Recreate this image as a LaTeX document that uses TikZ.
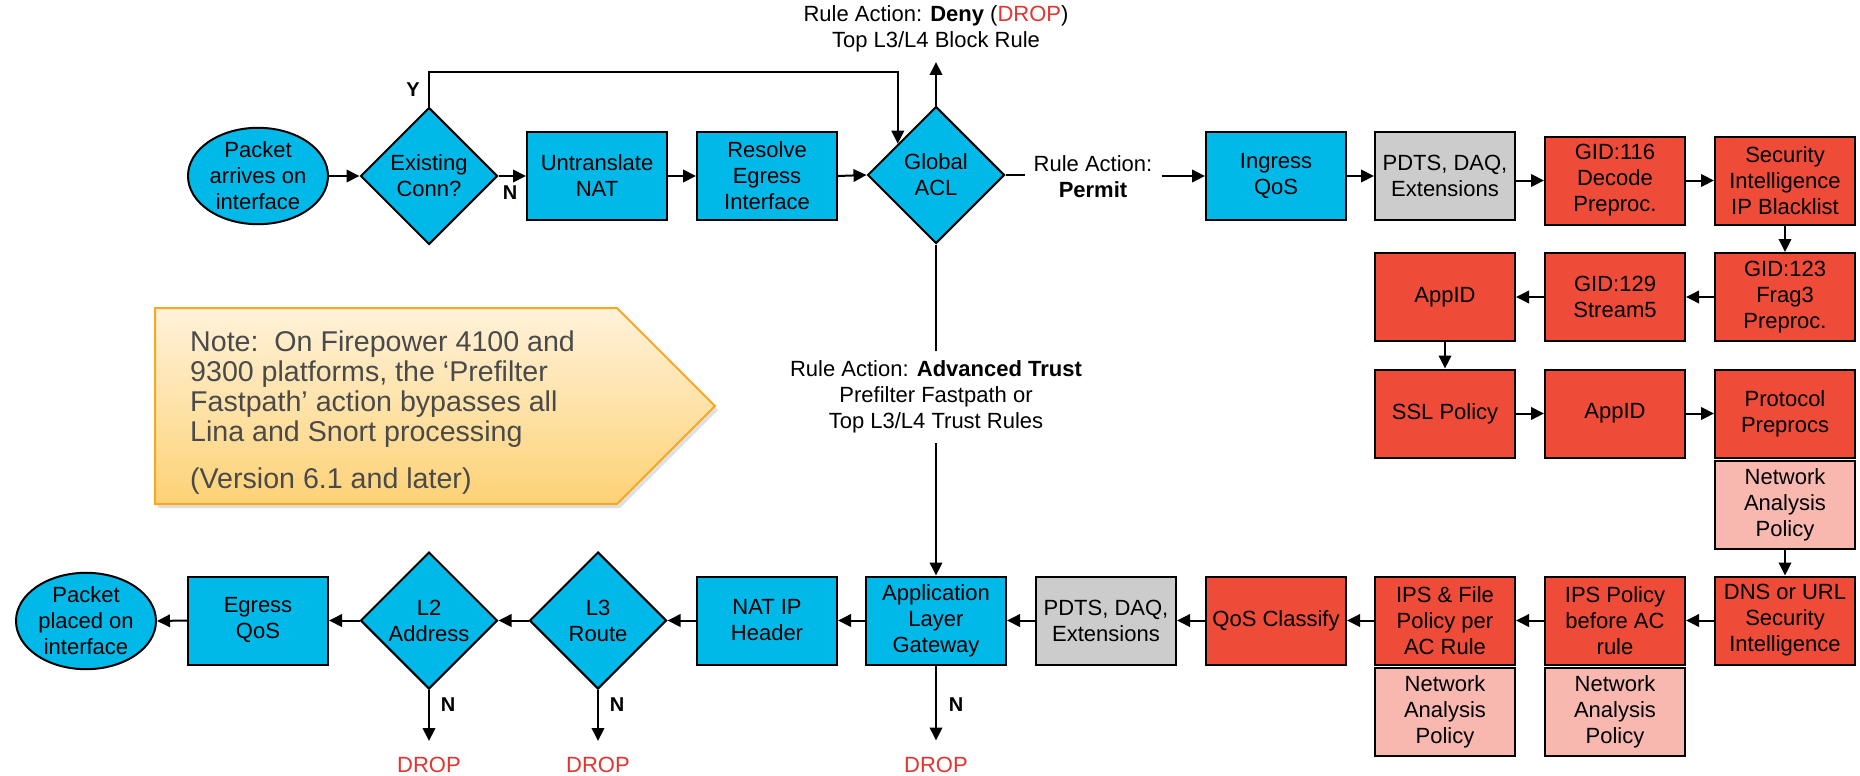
\documentclass[tikz,border=0pt]{standalone}
\usepackage{fontspec}
\setmainfont{Liberation Sans}
\usetikzlibrary{shapes.geometric,arrows.meta,calc,shadows}

\definecolor{fpblue}{HTML}{00B9E9}
\definecolor{fpred}{HTML}{EE4B39}
\definecolor{fppink}{HTML}{F8B8B0}
\definecolor{fpgray}{HTML}{CCCCCC}
\definecolor{dropred}{HTML}{E5342F}
\definecolor{noteorange}{HTML}{F7A823}
\definecolor{notetop}{HTML}{FFF2DA}
\definecolor{notebottom}{HTML}{FDD276}
\definecolor{notegray}{HTML}{4A4A4A}

\begin{document}
\begin{tikzpicture}[x=1pt,y=-1pt,
  every node/.style={font=\fontsize{22}{26}\selectfont, align=center},
  box/.style={draw=black, line width=2pt, minimum width=140pt, minimum height=88pt, inner sep=2pt},
  bluebox/.style={box, fill=fpblue},
  redbox/.style={box, fill=fpred},
  graybox/.style={box, fill=fpgray},
  napbox/.style={box, fill=fppink},
  decision/.style={diamond, aspect=1, draw=black, line width=2pt, fill=fpblue,
    minimum width=137pt, minimum height=137pt, inner sep=0pt},
  terminal/.style={ellipse, draw=black, line width=2pt, fill=fpblue,
    minimum width=140pt, minimum height=88pt, inner sep=0pt},
  flow/.style={-{Triangle[length=13pt,width=12.5pt]}, line width=2pt},
  plainline/.style={line width=2pt},
  yn/.style={font=\fontsize{20}{24}\selectfont\bfseries},
  droptext/.style={text=dropred},
]
\useasboundingbox (0,0) rectangle (1860,776);
\fill[white] (0,0) rectangle (1860,776);

% ---------- note callout ----------
\draw[draw=noteorange, line width=2pt, top color=notetop, bottom color=notebottom,
  drop shadow={opacity=0.25, shadow xshift=3pt, shadow yshift=-4pt}]
  (155,308) -- (617,308) -- (715,406) -- (617,504) -- (155,504) -- cycle;
\node[anchor=north west, inner sep=0pt, align=left, text=notegray,
  font=\fontsize{28.6}{30}\selectfont] (notetext) at (190,331)
  {Note:\ \ On Firepower 4100 and\\9300 platforms, the ‘Prefilter\\Fastpath’ action bypasses all\\Lina and Snort processing\\[17pt](Version 6.1 and later)};

% ---------- ingress path ----------
\node[terminal] (pin) at (258,176) {Packet\\arrives on\\interface};
\node[decision] (exist) at (429,176) {Existing\\Conn?};
\node[bluebox] (untr) at (597,176) {Untranslate\\NAT};
\node[bluebox] (resolve) at (767,176) {Resolve\\Egress\\Interface};
\node[decision] (acl) at (936,175) {Global\\ACL};
\node[bluebox] (ingress) at (1276,176) {Ingress\\QoS};
\node[graybox] (pdts1) at (1445,176) {PDTS, DAQ,\\Extensions};
\node[redbox] (gid116) at (1615,180.5) {GID:116\\Decode\\Preproc.};
\node[redbox] (si) at (1785,180.5) {Security\\Intelligence\\IP Blacklist};

\node[redbox] (gid123) at (1785,297) {GID:123\\Frag3\\Preproc.};
\node[redbox] (gid129) at (1615,297) {GID:129\\Stream5};
\node[redbox] (appid1) at (1445,297) {AppID};

\node[redbox] (ssl) at (1445,413.5) {SSL Policy};
\node[redbox] (appid2) at (1615,413.5) {AppID};
\node[redbox] (proto) at (1785,413.5) {Protocol\\Preprocs};
\node[napbox] (nap1) at (1785,504.5) {Network\\Analysis\\Policy};

% ---------- egress path ----------
\node[redbox] (dns) at (1785,620.5) {DNS or URL\\Security\\Intelligence};
\node[redbox] (ips1) at (1615,620.5) {IPS Policy\\before AC\\rule};
\node[napbox] (nap2) at (1615,711.5) {Network\\Analysis\\Policy};
\node[redbox] (ipsf) at (1445,620.5) {IPS \& File\\Policy per\\AC Rule};
\node[napbox] (nap3) at (1445,711.5) {Network\\Analysis\\Policy};
\node[redbox] (qosc) at (1276,620.5) {QoS Classify};
\node[graybox] (pdts2) at (1106,620.5) {PDTS, DAQ,\\Extensions};
\node[bluebox] (alg) at (936,620.5) {Application\\Layer\\Gateway};
\node[bluebox] (natip) at (767,620.5) {NAT IP\\Header};
\node[decision] (l3) at (598,620.5) {L3\\Route};
\node[decision] (l2) at (429,620.5) {L2\\Address};
\node[bluebox] (egress) at (258,620.5) {Egress\\QoS};
\node[terminal] (pout) at (86,621) {Packet\\placed on\\interface};

% ---------- rule action labels ----------
\node[anchor=north, inner sep=3pt] (deny) at (936,2)
  {Rule Action: \textbf{Deny} (\textcolor{dropred}{DROP})\\Top L3/L4 Block Rule};
\coordinate (denytip) at (936,62);
\node[inner xsep=9pt, inner ysep=4pt] (permit) at (1093,177) {Rule Action:\\\textbf{Permit}};
\node[inner xsep=4pt, inner ysep=10pt] (adv) at (936,397)
  {Rule Action: \textbf{Advanced Trust}\\Prefilter Fastpath or\\Top L3/L4 Trust Rules};

% ---------- connectors, top row ----------
\draw[flow] (pin.east) -- (exist.west);
\draw[flow] (exist.east) -- (untr.west);
\node[yn] (nlab1) at (510,193) {N};
\draw[flow] (untr.east) -- (resolve.west);
\draw[flow] (resolve.east) -- (acl.west);
\coordinate (looptop) at (0,72);
\coordinate (aclhit) at ($(acl.west)!0.45!(acl.north)$);
\draw[flow] (exist.north) -- (exist.north |- looptop) -- (aclhit |- looptop) -- (aclhit);
\node[yn] (ylab) at (413,90) {Y};
\draw[flow] (acl.north) -- (denytip);
\draw[plainline] (acl.east) -- (acl.east -| permit.west);
\draw[flow] (ingress.west -| permit.east) -- (ingress.west);
\draw[flow] (ingress.east) -- (pdts1.west);
\draw[flow] (pdts1.east |- gid116.west) -- (gid116.west);
\draw[flow] (gid116.east) -- (si.west);
\draw[flow] (si.south) -- (gid123.north);
\draw[flow] (gid123.west) -- (gid129.east);
\draw[flow] (gid129.west) -- (appid1.east);
\draw[flow] (appid1.south) -- (ssl.north);
\draw[flow] (ssl.east) -- (appid2.west);
\draw[flow] (appid2.east) -- (proto.west);
\draw[flow] (nap1.south) -- (dns.north);

% ---------- connectors, bottom row ----------
\draw[flow] (dns.west) -- (ips1.east);
\draw[flow] (ips1.west) -- (ipsf.east);
\draw[flow] (ipsf.west) -- (qosc.east);
\draw[flow] (qosc.west) -- (pdts2.east);
\draw[flow] (pdts2.west) -- (alg.east);
\draw[flow] (alg.west) -- (natip.east);
\draw[flow] (natip.west) -- (l3.east);
\draw[flow] (l3.west) -- (l2.east);
\draw[flow] (l2.west) -- (egress.east);
\draw[flow] (egress.west) -- (pout.east);

\draw[plainline] (acl.south) -- (adv.north);
\draw[flow] (adv.south) -- (alg.north);

% ---------- drop branches ----------
\coordinate (dtip1) at ($(l2.south)+(0,51)$);
\coordinate (dtip2) at ($(l3.south)+(0,51)$);
\coordinate (dtip3) at ($(alg.south)+(0,75)$);
\draw[flow] (l2.south) -- (dtip1);
\draw[flow] (l3.south) -- (dtip2);
\draw[flow] (alg.south) -- (dtip3);
\node[yn] (nlab2) at (448,705) {N};
\node[yn] (nlab3) at (617,705) {N};
\node[yn] (nlab4) at (956,705) {N};
\node[droptext] (drop1) at (429,765) {DROP};
\node[droptext] (drop2) at (598,765) {DROP};
\node[droptext] (drop3) at (936,765) {DROP};
\end{tikzpicture}
\end{document}
